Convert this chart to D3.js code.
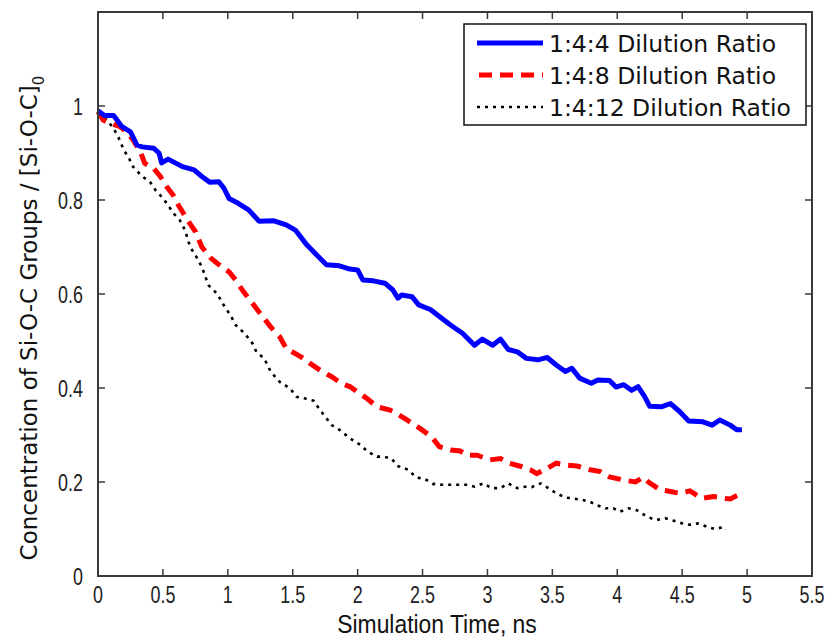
<!DOCTYPE html>
<meta charset="utf-8">
<head>
<style>
  body { margin: 0; background: #fff; }
  svg { display: block; }
  .tick-label { font-family: 'Liberation Sans', Arial, sans-serif; font-size: 23px; fill: #222; }
  .legend-text { font-family: 'DejaVu Sans', sans-serif; font-size: 23.5px; fill: #111; }
  .axis-title { fill: #111; }
</style>
</head>
<body>
<svg width="829" height="637"></svg>
<script src="https://d3js.org/d3.v7.min.js"></script>
<script>
// series: [time ns, normalized concentration]
var ratio144 = [[0,0.99],[0.05,0.98],[0.12,0.98],[0.185,0.956],[0.25,0.945],[0.30,0.917],[0.34,0.913],[0.43,0.91],[0.47,0.90],[0.49,0.879],[0.54,0.887],[0.65,0.871],[0.74,0.864],[0.80,0.85],[0.86,0.838],[0.93,0.839],[0.97,0.825],[1.01,0.803],[1.08,0.793],[1.16,0.779],[1.24,0.755],[1.35,0.756],[1.45,0.747],[1.52,0.736],[1.61,0.704],[1.67,0.687],[1.76,0.662],[1.86,0.66],[1.94,0.653],[2.0,0.651],[2.04,0.63],[2.12,0.628],[2.21,0.623],[2.27,0.609],[2.31,0.591],[2.34,0.598],[2.42,0.594],[2.47,0.577],[2.56,0.567],[2.63,0.552],[2.71,0.535],[2.81,0.516],[2.90,0.491],[2.96,0.504],[3.04,0.491],[3.10,0.504],[3.16,0.482],[3.23,0.477],[3.30,0.463],[3.39,0.46],[3.46,0.465],[3.53,0.449],[3.60,0.435],[3.65,0.442],[3.71,0.421],[3.80,0.41],[3.85,0.417],[3.94,0.416],[3.99,0.402],[4.05,0.407],[4.11,0.395],[4.16,0.403],[4.21,0.382],[4.25,0.361],[4.34,0.36],[4.41,0.367],[4.48,0.35],[4.55,0.33],[4.66,0.328],[4.73,0.321],[4.79,0.332],[4.87,0.321],[4.92,0.311],[4.96,0.311]];

var ratio148 = [[0,0.988],[0.04,0.97],[0.095,0.963],[0.17,0.956],[0.22,0.945],[0.27,0.928],[0.33,0.90],[0.36,0.878],[0.43,0.867],[0.48,0.85],[0.53,0.828],[0.58,0.81],[0.62,0.789],[0.69,0.757],[0.75,0.733],[0.80,0.70],[0.87,0.676],[0.92,0.665],[1.01,0.647],[1.06,0.63],[1.12,0.605],[1.19,0.58],[1.26,0.555],[1.33,0.53],[1.40,0.509],[1.45,0.484],[1.56,0.467],[1.63,0.453],[1.71,0.438],[1.80,0.424],[1.88,0.409],[1.94,0.403],[2.07,0.378],[2.15,0.36],[2.25,0.353],[2.30,0.346],[2.38,0.332],[2.48,0.314],[2.57,0.296],[2.63,0.275],[2.72,0.268],[2.79,0.266],[2.84,0.257],[2.92,0.257],[3.02,0.247],[3.10,0.25],[3.17,0.24],[3.26,0.233],[3.33,0.226],[3.38,0.218],[3.46,0.229],[3.53,0.24],[3.61,0.236],[3.69,0.234],[3.79,0.226],[3.87,0.222],[3.94,0.211],[4.05,0.204],[4.14,0.20],[4.20,0.21],[4.24,0.20],[4.33,0.183],[4.39,0.181],[4.48,0.176],[4.56,0.181],[4.65,0.165],[4.74,0.169],[4.84,0.165],[4.87,0.164],[4.93,0.172],[4.95,0.175]];

var ratio1412 = [[0,0.985],[0.056,0.974],[0.11,0.956],[0.15,0.938],[0.20,0.906],[0.24,0.889],[0.26,0.874],[0.34,0.85],[0.40,0.839],[0.45,0.818],[0.48,0.81],[0.53,0.793],[0.58,0.772],[0.63,0.757],[0.67,0.736],[0.71,0.70],[0.75,0.683],[0.80,0.658],[0.85,0.619],[0.92,0.60],[0.96,0.58],[1.02,0.555],[1.06,0.534],[1.13,0.516],[1.19,0.495],[1.22,0.477],[1.28,0.463],[1.33,0.435],[1.40,0.413],[1.48,0.399],[1.53,0.381],[1.59,0.378],[1.66,0.373],[1.70,0.357],[1.75,0.339],[1.80,0.321],[1.86,0.311],[1.94,0.293],[2.02,0.279],[2.08,0.264],[2.15,0.254],[2.20,0.254],[2.26,0.25],[2.31,0.234],[2.39,0.226],[2.45,0.21],[2.52,0.206],[2.58,0.196],[2.65,0.194],[2.78,0.194],[2.84,0.194],[2.90,0.19],[2.97,0.197],[3.03,0.187],[3.10,0.187],[3.16,0.197],[3.23,0.187],[3.29,0.19],[3.34,0.189],[3.41,0.197],[3.47,0.187],[3.53,0.176],[3.60,0.167],[3.66,0.165],[3.73,0.162],[3.79,0.158],[3.84,0.151],[3.91,0.144],[3.97,0.144],[4.02,0.137],[4.09,0.144],[4.15,0.14],[4.23,0.126],[4.30,0.119],[4.37,0.123],[4.43,0.118],[4.50,0.112],[4.56,0.109],[4.62,0.112],[4.69,0.105],[4.75,0.10],[4.82,0.104],[4.83,0.098]];

var seriesNames = ["1:4:4 Dilution Ratio", "1:4:8 Dilution Ratio", "1:4:12 Dilution Ratio"];
var xTicks = [0,0.5,1,1.5,2,2.5,3,3.5,4,4.5,5,5.5];
var yTicks = [0,0.2,0.4,0.6,0.8,1];

var svg = d3.select("svg");
// note: "top" is taken by window.top, so use plot* names
var plotLeft = 98, plotRight = 812, plotTop = 12, plotBottom = 576;

var x = d3.scaleLinear().domain([0, 5.5]).range([plotLeft, plotRight]);
var y = d3.scaleLinear().domain([0, 1.2]).range([plotBottom, plotTop]);

var axisColor = "#3a3a3a";
var tickLen = 7;
var narrow = 0.78; // matlab's stretched tick font

// ticks, all pointing inward like matlab
var tickG = svg.append("g").attr("stroke", axisColor).attr("stroke-width", 1.5);
xTicks.forEach(function(t) {
  tickG.append("line").attr("x1", x(t)).attr("x2", x(t)).attr("y1", plotBottom).attr("y2", plotBottom - tickLen);
  tickG.append("line").attr("x1", x(t)).attr("x2", x(t)).attr("y1", plotTop).attr("y2", plotTop + tickLen);
});
yTicks.forEach(function(t) {
  tickG.append("line").attr("x1", plotLeft).attr("x2", plotLeft + tickLen).attr("y1", y(t)).attr("y2", y(t));
  tickG.append("line").attr("x1", plotRight).attr("x2", plotRight - tickLen).attr("y1", y(t)).attr("y2", y(t));
});

// tick labels
svg.selectAll(".xlab").data(xTicks).enter().append("text")
  .attr("class", "tick-label")
  .attr("transform", d => "translate(" + x(d) + "," + (plotBottom + 27) + ") scale(" + narrow + ",1)")
  .attr("text-anchor", "middle")
  .text(d => d3.format("")(d));

svg.selectAll(".ylab").data(yTicks).enter().append("text")
  .attr("class", "tick-label")
  .attr("transform", d => "translate(" + (plotLeft - 15) + "," + (y(d) + 8.5) + ") scale(" + narrow + ",1)")
  .attr("text-anchor", "end")
  .text(d => d3.format("")(d));

// curves
var line = d3.line().x(d => x(d[0])).y(d => y(d[1]));

svg.append("path").datum(ratio1412)
  .attr("fill", "none").attr("stroke", "#000").attr("stroke-width", 2.6)
  .attr("stroke-dasharray", "3,5").attr("d", line);

svg.append("path").datum(ratio148)
  .attr("fill", "none").attr("stroke", "#ff0000").attr("stroke-width", 5)
  .attr("stroke-dasharray", "13,8").attr("d", line);

svg.append("path").datum(ratio144)
  .attr("fill", "none").attr("stroke", "#0000ff").attr("stroke-width", 5)
  .attr("stroke-linejoin", "round").attr("d", line);

// axes box
svg.append("rect")
  .attr("x", plotLeft).attr("y", plotTop)
  .attr("width", plotRight - plotLeft).attr("height", plotBottom - plotTop)
  .attr("fill", "none").attr("stroke", axisColor).attr("stroke-width", 2);

// legend
var legend = svg.append("g");
legend.append("rect")
  .attr("x", 464).attr("y", 24).attr("width", 342).attr("height", 101)
  .attr("fill", "#fff").attr("stroke", "#111").attr("stroke-width", 1.5);

var styles = [
  {color: "#0000ff", width: 5, dash: null},
  {color: "#ff0000", width: 5, dash: "13,8"},
  {color: "#000", width: 2.6, dash: "3,5"}
];
var rowY = [43, 75, 107];
seriesNames.forEach(function(name, i) {
  legend.append("line")
    .attr("x1", i == 1 ? 479 : 477).attr("x2", 543)
    .attr("y1", rowY[i]).attr("y2", rowY[i])
    .attr("stroke", styles[i].color).attr("stroke-width", styles[i].width)
    .attr("stroke-dasharray", styles[i].dash);
  legend.append("text")
    .attr("class", "legend-text")
    .attr("x", 549).attr("y", rowY[i] + 8.5)
    .text(name);
});

// axis titles
svg.append("text")
  .attr("class", "axis-title")
  .attr("transform", "translate(437,633) scale(0.88,1)")
  .attr("text-anchor", "middle")
  .style("font-family", "'Liberation Sans', Arial, sans-serif")
  .style("font-size", "26px")
  .text("Simulation Time, ns");

var ytitle = svg.append("text")
  .attr("class", "axis-title")
  .attr("transform", "translate(37,318) rotate(-90)")
  .attr("text-anchor", "middle")
  .style("font-family", "'DejaVu Sans', sans-serif")
  .style("font-size", "23px");
ytitle.append("tspan").text("Concentration of Si-O-C Groups / [Si-O-C]");
ytitle.append("tspan").attr("dy", 7).style("font-size", "15px").text("0");
</script>
</body>
